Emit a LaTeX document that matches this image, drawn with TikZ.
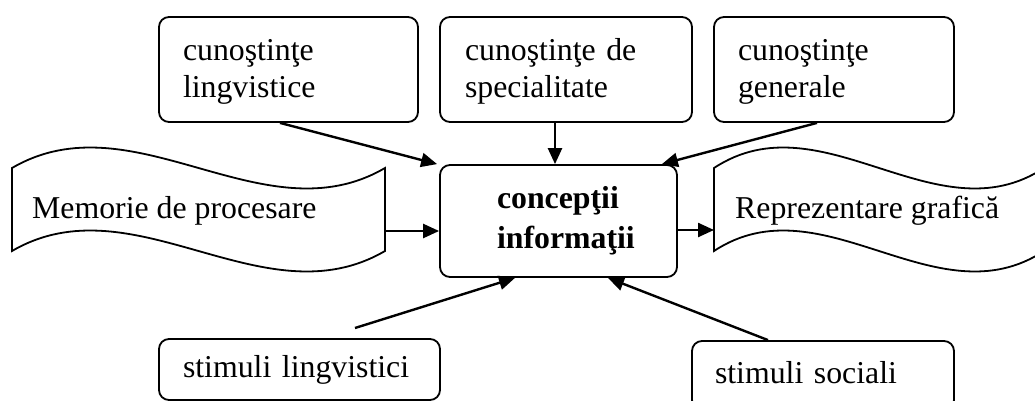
\documentclass[tikz,border=0pt]{standalone}
\usepackage{fontspec}
\setmainfont{Liberation Serif}
\usetikzlibrary{arrows.meta,calc}
\begin{document}
\begin{tikzpicture}[x=1pt,y=-1pt,
  txt/.style={font=\fontsize{31.8pt}{37pt}\selectfont},
  box/.style={draw,line width=1.8pt,rounded corners=10pt,txt,align=left,inner xsep=24pt,inner ysep=0pt},
  topbox/.style={box,minimum height=105pt,text depth=40pt},
  wave/.style={draw,line width=1.8pt},
  arr/.style={line width=2.4pt,-{Triangle[length=16pt,width=14pt]}},
]
\useasboundingbox (0,0) rectangle (1035,401);
\clip (0,0) rectangle (1035,401);

% top boxes
\node[topbox,text width=211pt] (b1) at (288.5,69.5) {cunoştinţe\\lingvistice};
\node[topbox,inner xsep=25pt,text width=202pt] (b2) at (566,69.5) {cunoştinţe de\\specialitate};
\node[topbox,text width=192pt] (b3) at (834,69.5) {cunoştinţe\\generale};

% centre box
\node[box,font=\fontsize{31.8pt}{40pt}\selectfont\bfseries,inner xsep=42pt,text width=153pt,minimum height=112pt] (c) at (558.5,221)
  {\hspace*{15pt}concepţii\\\hspace*{15pt}informaţii};

% bottom boxes
\node[box,text width=233pt,text height=22pt,text depth=7pt,minimum height=61pt] (s1) at (299.5,369.5) {stimuli lingvistici};
\node[box,inner xsep=23pt,text width=216pt,text height=22pt,text depth=7pt,minimum height=69pt] (s2) at (823,375.5) {stimuli sociali};

% wave shapes
\draw[wave] (12,168) .. controls (134,97) and (263,239) .. (385,168) -- (385,251)
  .. controls (263,322) and (134,180) .. (12,251) -- cycle;
\node[txt,anchor=base west,inner sep=0pt] (mem) at (32,218) {Memorie de procesare};
\draw[wave] (714,168) .. controls (822,97) and (936,239) .. (1044,168) -- (1044,251)
  .. controls (936,322) and (822,180) .. (714,251) -- cycle;
\node[txt,anchor=base west,inner sep=0pt] (rep) at (735,218) {Reprezentare grafică};

\coordinate (mr) at (385,231);
\coordinate (rl) at (714,230);
\coordinate (s1t) at (355,328);
\coordinate (a2) at ([xshift=-11pt]b2.south);

% arrows
\draw[arr] ([xshift=-8.5pt]b1.south) -- ([xshift=-2pt]c.north west);
\draw[arr] (a2) -- (a2 |- c.north);
\draw[arr] ([xshift=-17pt]b3.south) -- ([xshift=-16pt]c.north east);
\draw[arr] (mr) -- (mr -| c.west);
\draw[arr] (c.east |- rl) -- (rl);
\draw[arr] (s1t) -- ([xshift=-43.5pt]c.south);
\draw[arr] ([xshift=-55pt]s2.north) -- ([xshift=49.5pt]c.south);
\end{tikzpicture}
\end{document}
